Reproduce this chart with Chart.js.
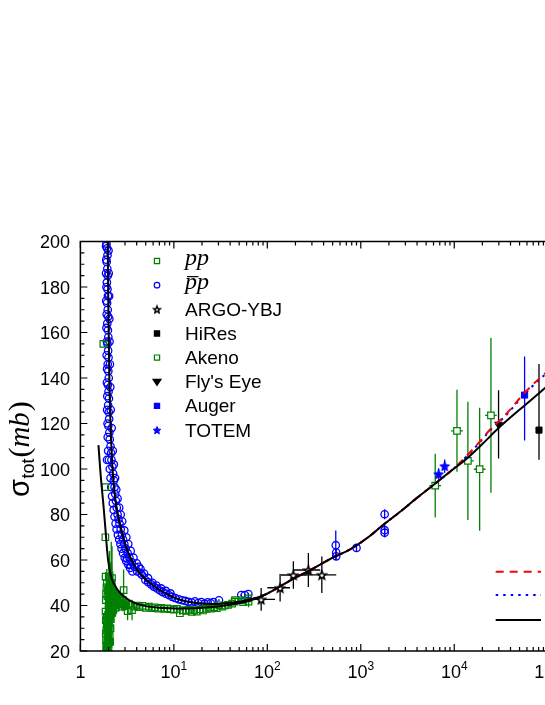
<!DOCTYPE html>
<html>
<head>
<meta charset="utf-8">
<script src="https://cdn.jsdelivr.net/npm/chart.js@4.4.1/dist/chart.umd.min.js"></script>
<style>
  html, body { margin: 0; padding: 0; background: #fff; overflow: hidden; }
  #wrap { width: 545px; height: 705px; overflow: hidden; }
  canvas { display: block; }
</style>
</head>
<body>
<div id="wrap"><canvas id="sigmaChart" width="560" height="705"></canvas></div>
<script>
// axis ticks
const yTicks = [20, 40, 60, 80, 100, 120, 140, 160, 180, 200];
const xTicks = [1, 10, 100, 1000, 10000, 100000];
const xTickPowers = ['', '1', '2', '3', '4', '5'];

// pp data: [sqrt(s) GeV, sigma mb, error]
const ppData = [
  [1.76, 155, 0], [1.85, 92, 0], [1.85, 70, 0], [1.86, 52.7, 2], [1.87, 42.4, 3], [1.86, 37.3, 3],
  [1.87, 33.6, 3], [1.87, 27.8, 3], [1.88, 24.8, 3], [1.89, 22, 2], [1.9, 29, 3], [1.91, 31.5, 4],
  [1.92, 35, 4], [1.93, 21, 2], [1.94, 24, 3], [1.95, 27, 4], [1.96, 30, 5], [1.97, 33, 5],
  [1.98, 36, 6], [1.99, 23, 3], [2.0, 26, 4], [2.01, 29, 5], [2.02, 32, 6], [2.03, 35, 6],
  [2.04, 38, 7], [2.05, 41, 8], [2.06, 44, 9], [2.07, 30, 7], [2.08, 36, 8], [2.09, 42, 10],
  [2.1, 47, 12], [2.11, 39, 10], [2.12, 44, 14], [2.14, 50, 18], [2.15, 41, 10], [2.16, 46, 12],
  [2.18, 52, 14], [2.2, 43, 8], [2.22, 47, 8], [2.25, 41, 6], [2.28, 44, 6], [2.32, 40, 5],
  [1.88, 45, 4], [1.9, 48, 5], [1.92, 50, 6], [1.95, 44, 6], [1.97, 47, 7], [2.0, 40, 8],
  [2.02, 48, 10], [2.05, 52, 12], [1.9, 20.5, 1], [1.92, 22.5, 2], [1.95, 20.8, 1], [1.98, 25, 3],
  [2.0, 21.5, 2], [2.03, 24, 3], [2.06, 27, 4], [2.08, 24, 3], [2.1, 30, 6], [2.12, 34, 7],
  [2.14, 37, 8], [2.16, 40, 9], [2.2, 37, 6], [2.25, 38, 5], [2.3, 42, 4], [2.35, 39, 4],
  [2.36, 45, 5], [2.42, 41, 4], [2.45, 44, 3], [2.5, 43, 3], [2.55, 41, 3], [2.6, 40.5, 3],
  [2.65, 43.5, 2.5], [2.7, 42, 3], [2.75, 40.5, 2], [2.8, 39.5, 2], [2.85, 42.5, 2],
  [2.9, 46.8, 9], [3.0, 41, 2], [3.1, 40, 2], [3.2, 37.5, 4], [3.3, 40.5, 2], [3.57, 38, 4.5],
  [3.8, 39.5, 1.5], [4.0, 40, 1], [4.3, 39.3, 1], [4.6, 39.8, 1], [5.0, 39, 1], [5.4, 39.5, 1],
  [5.8, 38.8, 1], [6.2, 39.2, 0.8], [6.8, 38.6, 0.8], [7.3, 39, 0.8], [7.9, 38.5, 0.8],
  [8.5, 38.7, 0.8], [9.2, 38.4, 0.8], [10, 38.2, 0.6], [10.8, 38.5, 0.6], [11.6, 36.6, 0.8],
  [12.5, 38, 0.6], [13.5, 37.6, 0.6], [14.5, 38.1, 0.6], [15.5, 37.2, 0.8], [16.5, 38, 0.6],
  [17.6, 37.3, 0.6], [19, 38.3, 0.5], [20.5, 37.8, 0.6], [22, 38.5, 0.5], [23.5, 39, 0.4],
  [25, 38.6, 0.6], [27, 39.2, 0.5], [28.8, 38.8, 0.4], [30.6, 40.1, 0.3], [33, 39.5, 0.6],
  [35, 40, 0.5], [38, 40.3, 0.6], [42, 40.8, 0.6], [44.7, 41.7, 0.3], [45.2, 42.4, 1.0],
  [52.8, 42.4, 0.3], [55, 41.5, 1], [62.3, 43.1, 0.3], [63, 41.7, 2.5]
];

// pbar-p data: [sqrt(s) GeV, sigma mb, error]
const pbarpData = [
  [1.90, 199, 0], [1.93, 197, 0], [1.95, 194, 0], [1.91, 191, 0], [1.94, 188, 0], [1.96, 185, 0],
  [1.92, 182, 0], [1.95, 179, 0], [1.97, 176, 0], [1.93, 173, 0], [1.96, 170, 0], [1.98, 167, 0],
  [1.94, 164, 0], [1.97, 161, 0], [1.99, 158, 0], [1.95, 155, 0], [1.98, 152, 0], [2.0, 149, 0],
  [1.96, 146, 0], [1.99, 143, 0], [2.01, 140, 0], [1.97, 137, 0], [2.0, 134, 0], [2.02, 131, 0],
  [1.98, 128, 0], [2.01, 125, 0], [2.03, 122, 0], [1.99, 119, 0], [2.04, 116, 0], [2.06, 113, 0],
  [1.88, 198, 0], [1.89, 192, 0], [1.88, 186, 0], [1.9, 180, 0], [1.89, 174, 0], [1.91, 168, 0],
  [1.9, 162, 0], [1.92, 156, 0], [1.91, 150, 0], [1.93, 144, 0], [1.92, 138, 0], [1.94, 132, 0],
  [1.93, 126, 0], [1.95, 120, 0], [1.96, 114, 0], [1.98, 108, 0], [2.02, 104, 0], [2.06, 100, 0],
  [2.0, 196, 0], [2.01, 186, 0], [2.03, 176, 0], [2.04, 166, 0], [2.05, 156, 0], [2.07, 146, 0],
  [2.09, 136, 0], [2.11, 126, 0], [2.16, 118, 0], [2.22, 108, 0], [2.28, 102, 0], [2.35, 96, 0],
  [2.42, 91, 0], [2.5, 87, 0], [2.6, 83, 0], [2.7, 80, 0], [2.8, 77, 0], [2.95, 73, 0],
  [3.1, 70, 0], [3.25, 67, 0], [3.45, 64, 0], [3.7, 61, 0], [4.0, 58.5, 0], [4.4, 56, 0],
  [4.8, 54, 0], [5.3, 52, 0], [5.9, 50, 0], [6.5, 48.8, 0], [7.3, 47.5, 0], [8.2, 46.4, 0],
  [9.2, 45.3, 0], [2.1, 96, 0], [2.14, 92, 0], [2.18, 88, 0], [2.22, 85, 0], [2.27, 82, 0],
  [2.32, 79, 0], [2.38, 76, 0], [2.44, 73.5, 0], [2.52, 71, 0], [2.6, 69, 0], [2.68, 67, 0],
  [2.76, 65, 0], [2.86, 63, 0], [2.98, 61, 0], [3.1, 59.5, 0], [3.25, 58, 0], [3.4, 56.5, 0],
  [3.6, 55, 0],
  [1.93, 104, 0], [2.1, 110, 0], [2.13, 107, 0], [2.15, 104, 0], [2.2, 101, 0], [2.24, 98, 0],
  [2.28, 95, 0], [2.32, 92, 0], [2.36, 89, 0], [2.4, 86, 0], [2.45, 83, 0], [2.5, 80, 0],
  [2.56, 78, 0], [2.62, 76, 0], [2.7, 73.5, 0], [2.78, 71, 0], [2.86, 69, 0], [2.95, 67, 0],
  [3.05, 65, 0], [3.15, 60.7, 1], [3.2, 63, 0], [3.35, 61, 0], [3.43, 57.8, 1], [3.55, 59, 0],
  [3.8, 57, 0], [4.21, 57, 1], [4.05, 55, 0], [4.57, 53.4, 1], [4.4, 54.2, 0], [4.96, 51.2, 1],
  [5.3, 50.3, 0], [5.7, 49.3, 0], [6.1, 48.3, 0], [6.6, 47.5, 1], [7.1, 46.6, 0], [7.6, 45.9, 0],
  [8.2, 45.2, 0], [8.9, 44.5, 0], [9.6, 43.8, 1], [10.4, 43.2, 0], [11.3, 42.7, 0], [12.2, 42.3, 0],
  [13.2, 42, 0], [14.3, 41.6, 0], [15.5, 41.3, 1], [16.8, 41.8, 0], [18.2, 41.1, 0], [19.7, 41.5, 0],
  [21.3, 40.8, 1], [23, 41.4, 0], [24.8, 41, 0], [26.5, 41.5, 0], [30.4, 42.3, 0.5],
  [52.6, 44.6, 0.5], [57.5, 44.6, 0.5], [62.7, 45, 0.5],
  [540, 66.5, 6.5], [546, 63.3, 1.5], [546, 61.6, 1.5], [900, 65.3, 1.7],
  [1800, 80.1, 2.2], [1800, 73.1, 3.1], [1800, 72, 2]
];

// cosmic-ray and LHC points
const argoX = [85.9, 137, 190, 275, 383];
const argoY = [42.7, 47.8, 53.4, 55.6, 53.5];
const argoErr = [5, 6, 6, 7.5, 8];
const argoXLo = [65.4, 100, 140, 190, 265];
const argoXHi = [121, 175, 264, 368, 546];

const hiresX = [80700];
const hiresY = [117.1];
const hiresErrUp = [29];
const hiresErrDown = [13];

const akenoX = [6260, 10700, 14000, 18700, 24700];
const akenoY = [92.7, 116.8, 103.6, 99.9, 123.6];
const akenoErr = [14, 18, 26, 27, 34];
const akenoXLo = [5400, 9250, 12100, 16200, 21400];
const akenoXHi = [7250, 12400, 16200, 21600, 28500];

const flysEyeX = [29800];
const flysEyeY = [119.6];
const flysEyeErr = [15];

const augerX = [56600];
const augerY = [132.5];
const augerErrUp = [17];
const augerErrDown = [20];

const totemX = [6800, 7900];
const totemY = [97.8, 101.3];
const totemErr = [2.5, 2.9];

// model curves
const fitPbarP = [
  [1.96, 200], [1.98, 180], [2.0, 165], [2.02, 152], [2.04, 140], [2.07, 128], [2.1, 120],
  [2.14, 111], [2.2, 101], [2.3, 91], [2.4, 85], [2.55, 79], [2.7, 74.5], [2.9, 69.5],
  [3.1, 65.5], [3.4, 61.5], [3.8, 57.5], [4.2, 54.8], [4.7, 52.5], [5.6, 49.8], [7.1, 46.8],
  [8.7, 44.8], [10.5, 43.2], [13, 42], [16, 41.3], [20, 40.9], [25, 40.7], [32, 40.8],
  [40, 41.2], [55, 42], [70, 43], [85, 44], [100, 45.2]
];
const fitPP = [
  [1.56, 110.5], [1.65, 97], [1.77, 83.4], [1.85, 74], [1.93, 64.4], [2.0, 58.5], [2.09, 54.2],
  [2.2, 51], [2.37, 48.3], [2.6, 46], [2.85, 44.4], [3.2, 42.8], [3.6, 41.6], [4.2, 40.5],
  [5.4, 39.5], [7.1, 39], [9, 38.8], [12, 38.7], [16, 38.8], [22, 39.1], [30, 39.6], [40, 40.3],
  [52, 41.2], [65, 42.2], [80, 43.4], [100, 45.2]
];
const fitHigh = [
  [100, 45.2], [140, 48.6], [200, 52.2], [300, 56], [500, 61], [770, 64.7], [1200, 70],
  [1740, 75.5], [2700, 81.5], [3960, 87.2], [6000, 93], [9000, 98.8], [14000, 105],
  [20000, 111], [29800, 118], [45000, 124.5], [65000, 130], [100000, 136.6]
];
const fitRed = [
  [60, 42.3], [80, 43.6], [100, 45.2], [140, 48.6], [200, 52.2], [300, 56], [500, 61],
  [770, 64.7], [1200, 70], [1740, 75.5], [2700, 81.5], [3960, 87.2], [6000, 93], [9000, 98.8],
  [12000, 103.5], [18100, 111.3], [25000, 118], [34700, 123.5], [56100, 133.3], [80000, 139.5],
  [100000, 143]
];
const fitBlue = [
  [60, 42.3], [80, 43.6], [100, 45.2], [140, 48.6], [200, 52.2], [300, 56], [500, 61],
  [770, 64.7], [1200, 70], [1740, 75.5], [2700, 81.5], [3960, 87.2], [6000, 93], [9000, 98.8],
  [12000, 103.3], [18100, 111], [25000, 117.6], [34700, 123], [56100, 132.8], [80000, 139],
  [100000, 142.5]
];

const GREEN = '#008000', BLUE = '#0000ff', RED = '#ff0000', BLACK = '#000000';
const SANS = '"Liberation Sans", Arial, sans-serif';
const SERIF = '"Liberation Serif", "Times New Roman", serif';

function starImage(size, fill, stroke, lw) {
  const c = document.createElement('canvas');
  c.width = c.height = size;
  const g = c.getContext('2d');
  const cx = size / 2, cy = size / 2 + size * 0.05;
  const ro = size / 2 - lw, ri = ro * 0.45;
  g.beginPath();
  for (let k = 0; k < 10; k++) {
    const r = k % 2 ? ri : ro;
    const a = -Math.PI / 2 + k * Math.PI / 5;
    g.lineTo(cx + r * Math.cos(a), cy + r * Math.sin(a));
  }
  g.closePath();
  g.fillStyle = fill; g.fill();
  g.lineWidth = lw; g.strokeStyle = stroke; g.stroke();
  return c;
}

const argoStar = starImage(12, '#ffffff', BLACK, 1.6);
const argoStarSmall = starImage(10, '#ffffff', BLACK, 1.5);
const totemStar = starImage(12, BLUE, BLUE, 1);
const totemStarSmall = starImage(10, BLUE, BLUE, 1);

const pts = (xs, ys) => xs.map((v, i) => ({ x: v, y: ys[i] }));
const pairs = arr => arr.map(p => ({ x: p[0], y: p[1] }));

function curve(arr, color, dash, order) {
  return {
    type: 'line', data: pairs(arr), borderColor: color, borderWidth: 2,
    borderDash: dash, pointRadius: 0, fill: false, showLine: true,
    cubicInterpolationMode: 'monotone', order: order
  };
}

const datasets = [
  curve(fitPbarP, BLACK, [], 0),
  curve(fitPP, BLACK, [], 0),
  curve(fitHigh, BLACK, [], 0),
  curve(fitRed, RED, [8, 6], 1),
  curve(fitBlue, BLUE, [2.5, 5], 1),
  { label: 'pp', legendItalic: true, data: pairs(ppData),
    errPlus: ppData.map(p => p[2]), errMinus: ppData.map(p => p[2]),
    pointStyle: 'rect', pointRadius: 4.6, pointBorderWidth: 1.2, pointBorderColor: GREEN,
    pointBackgroundColor: 'rgba(0,0,0,0)', borderColor: GREEN, legendRadius: 2.6, order: 3 },
  { label: 'pbar-p', legendItalic: true, legendBar: true, data: pairs(pbarpData),
    errPlus: pbarpData.map(p => p[2]), errMinus: pbarpData.map(p => p[2]),
    pointStyle: 'circle', pointRadius: 3.7, pointBorderWidth: 1.3, pointBorderColor: BLUE,
    pointBackgroundColor: 'rgba(0,0,0,0)', borderColor: BLUE, legendRadius: 2.8, order: 3 },
  { label: 'ARGO-YBJ', data: pts(argoX, argoY), errPlus: argoErr, errMinus: argoErr,
    xLo: argoXLo, xHi: argoXHi, pointStyle: argoStar, legendImage: argoStarSmall,
    borderColor: BLACK, order: 2 },
  { label: 'HiRes', data: pts(hiresX, hiresY), errPlus: hiresErrUp, errMinus: hiresErrDown,
    pointStyle: 'rect', pointRadius: 4.3, pointBorderWidth: 1, pointBorderColor: BLACK,
    pointBackgroundColor: BLACK, borderColor: BLACK, legendRadius: 2.6, order: 2 },
  { label: 'Akeno', data: pts(akenoX, akenoY), errPlus: akenoErr, errMinus: akenoErr,
    xLo: akenoXLo, xHi: akenoXHi, pointStyle: 'rect', pointRadius: 4.6, pointBorderWidth: 1.2,
    pointBorderColor: GREEN, pointBackgroundColor: '#ffffff', borderColor: GREEN,
    legendRadius: 2.6, order: 2 },
  { label: "Fly's Eye", data: pts(flysEyeX, flysEyeY), errPlus: flysEyeErr, errMinus: flysEyeErr,
    pointStyle: 'triangle', pointRotation: 180, pointRadius: 4.5, pointBorderWidth: 1,
    pointBorderColor: BLACK, pointBackgroundColor: BLACK, borderColor: BLACK,
    legendRadius: 4, order: 2 },
  { label: 'Auger', data: pts(augerX, augerY), errPlus: augerErrUp, errMinus: augerErrDown,
    pointStyle: 'rect', pointRadius: 4.3, pointBorderWidth: 1, pointBorderColor: BLUE,
    pointBackgroundColor: BLUE, borderColor: BLUE, legendRadius: 2.6, order: 2 },
  { label: 'TOTEM', data: pts(totemX, totemY), errPlus: totemErr, errMinus: totemErr,
    pointStyle: totemStar, legendImage: totemStarSmall, borderColor: BLUE, order: 2 }
];

const legendRows = [5, 6, 7, 8, 9, 10, 11, 12];

// vertical / horizontal error bars, drawn under the markers
const errorBars = {
  id: 'errorBars',
  beforeDatasetsDraw(chart) {
    const { ctx, chartArea: a, scales: { x, y } } = chart;
    ctx.save();
    ctx.beginPath();
    ctx.rect(a.left, a.top, a.right - a.left, a.bottom - a.top);
    ctx.clip();
    chart.data.datasets.forEach(ds => {
      if (!ds.errPlus && !ds.xLo) return;
      ctx.strokeStyle = ds.borderColor;
      ctx.lineWidth = 1.3;
      ds.data.forEach((p, j) => {
        const px = x.getPixelForValue(p.x);
        const py = y.getPixelForValue(p.y);
        ctx.beginPath();
        if (ds.errPlus && (ds.errPlus[j] || ds.errMinus[j])) {
          ctx.moveTo(px, y.getPixelForValue(p.y + ds.errPlus[j]));
          ctx.lineTo(px, y.getPixelForValue(p.y - ds.errMinus[j]));
        }
        if (ds.xLo) {
          ctx.moveTo(x.getPixelForValue(ds.xLo[j]), py);
          ctx.lineTo(x.getPixelForValue(ds.xHi[j]), py);
        }
        ctx.stroke();
      });
    });
    ctx.restore();
  }
};

function drawMarker(ctx, ds, cx, cy) {
  if (ds.legendImage) {
    ctx.drawImage(ds.legendImage, cx - ds.legendImage.width / 2, cy - ds.legendImage.height / 2);
    return;
  }
  const r = ds.legendRadius;
  ctx.fillStyle = ds.pointBackgroundColor;
  ctx.strokeStyle = ds.pointBorderColor;
  ctx.lineWidth = 1.2;
  ctx.beginPath();
  if (ds.pointStyle === 'circle') {
    ctx.arc(cx, cy, r, 0, Math.PI * 2);
  } else if (ds.pointStyle === 'triangle') {
    ctx.moveTo(cx - r, cy - r * 0.6);
    ctx.lineTo(cx + r, cy - r * 0.6);
    ctx.lineTo(cx, cy + r * 0.9);
    ctx.closePath();
  } else {
    ctx.rect(cx - r, cy - r, 2 * r, 2 * r);
  }
  ctx.fill();
  ctx.stroke();
}

// frame with inward ticks, tick labels, axis title and legends
const frame = {
  id: 'frame',
  afterDraw(chart) {
    const { ctx, chartArea: a, scales: { x, y } } = chart;
    ctx.save();
    ctx.strokeStyle = BLACK;
    ctx.fillStyle = BLACK;
    ctx.lineWidth = 1.5;
    ctx.beginPath();
    ctx.rect(a.left, a.top, a.right - a.left, a.bottom - a.top);
    ctx.stroke();

    ctx.lineWidth = 1.2;
    ctx.beginPath();
    for (let d = 1; d < 1e5; d *= 10) {
      for (let k = 1; k < 10; k++) {
        const px = x.getPixelForValue(d * k);
        const len = k === 1 ? 7 : 4;
        ctx.moveTo(px, a.bottom); ctx.lineTo(px, a.bottom - len);
        ctx.moveTo(px, a.top); ctx.lineTo(px, a.top + len);
      }
    }
    for (let v = 20; v <= 200; v += 5) {
      const py = y.getPixelForValue(v);
      const len = v % 20 === 0 ? 7 : 4;
      ctx.moveTo(a.left, py); ctx.lineTo(a.left + len, py);
    }
    ctx.stroke();

    ctx.font = '18px ' + SANS;
    ctx.textAlign = 'right';
    ctx.textBaseline = 'alphabetic';
    yTicks.forEach(v => ctx.fillText(String(v), 70, y.getPixelForValue(v) + 6.5));

    xTicks.forEach((v, i) => {
      const px = x.getPixelForValue(v);
      const pw = xTickPowers[i];
      ctx.font = '18px ' + SANS;
      if (!pw) {
        ctx.textAlign = 'center';
        ctx.fillText('1', px, 678);
        return;
      }
      const wb = ctx.measureText('10').width;
      ctx.font = '12px ' + SANS;
      const we = ctx.measureText(pw).width;
      const left = px - (wb + we) / 2;
      ctx.textAlign = 'left';
      ctx.font = '18px ' + SANS;
      ctx.fillText('10', left, 678);
      ctx.font = '12px ' + SANS;
      ctx.fillText(pw, left + wb, 670);
    });

    // y title: sigma_tot(mb)
    ctx.save();
    ctx.translate(28.5, 497);
    ctx.rotate(-Math.PI / 2);
    ctx.textAlign = 'left';
    ctx.font = '29px ' + SANS;
    ctx.fillText('σ', 0, 0);
    let w = ctx.measureText('σ').width + 0.5;
    ctx.font = '18px ' + SANS;
    ctx.fillText('tot', w, 5);
    w += ctx.measureText('tot').width + 1;
    ctx.font = '30px ' + SERIF;
    ctx.fillText('(', w, 0);
    w += ctx.measureText('(').width;
    ctx.font = 'italic 29px ' + SERIF;
    ctx.fillText('mb', w, 0);
    w += ctx.measureText('mb').width + 1;
    ctx.font = '30px ' + SERIF;
    ctx.fillText(')', w, 0);
    ctx.restore();

    // main legend
    legendRows.forEach((idx, r) => {
      const ds = chart.data.datasets[idx];
      const ry = 261 + r * 24.15;
      drawMarker(ctx, ds, 157, ry);
      ctx.fillStyle = BLACK;
      ctx.textAlign = 'left';
      if (ds.legendItalic) {
        ctx.font = 'italic 24px ' + SERIF;
        ctx.fillText('pp', 185, ry + 3.5);
        if (ds.legendBar) {
          const pw = ctx.measureText('p').width;
          ctx.strokeStyle = BLACK;
          ctx.lineWidth = 1.2;
          ctx.beginPath();
          ctx.moveTo(187, ry - 8.5);
          ctx.lineTo(185 + pw + 1.5, ry - 8.5);
          ctx.stroke();
        }
      } else {
        ctx.font = '19px ' + SANS;
        ctx.fillText(ds.label, 185, ry + 6.5);
      }
    });

    // model legend samples (their labels fall outside the picture)
    [[3, 571.7], [4, 595], [0, 620]].forEach(([idx, ly]) => {
      const ds = chart.data.datasets[idx];
      ctx.strokeStyle = ds.borderColor;
      ctx.lineWidth = 2;
      ctx.setLineDash(ds.borderDash);
      ctx.beginPath();
      ctx.moveTo(495.7, ly);
      ctx.lineTo(541, ly);
      ctx.stroke();
    });
    ctx.setLineDash([]);
    ctx.restore();
  }
};

new Chart(document.getElementById('sigmaChart'), {
  type: 'scatter',
  data: { datasets: datasets },
  options: {
    responsive: false,
    animation: false,
    events: [],
    layout: { padding: { left: 80.4, right: 12.3, top: 241.5, bottom: 54 } },
    scales: {
      x: { type: 'logarithmic', min: 1, max: 1e5, display: false },
      y: { type: 'linear', min: 20, max: 200, display: false }
    },
    plugins: { legend: { display: false }, tooltip: { enabled: false } }
  },
  plugins: [errorBars, frame]
});
</script>
</body>
</html>
